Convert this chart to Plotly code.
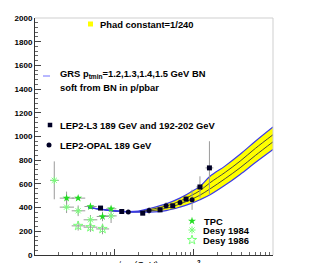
import plotly.graph_objects as go

# ---------------- data ----------------
# GRS curves (pt_min = 1.2, 1.3, 1.4, 1.5 GeV), sigma_tot in nb vs sqrt(s) GeV
grs_s = [4.7, 7, 10, 15, 20, 28, 45, 67, 95, 120, 161, 250, 385, 600, 1000]
grs_12 = [400, 385, 372, 366, 370, 393, 432, 480, 537, 579, 664, 752, 850, 960, 1080]
grs_13 = [400, 385, 372, 365, 367, 383, 413, 455, 505, 543, 610, 698, 792, 900, 1015]
grs_14 = [400, 385, 372, 365, 364, 372, 394, 430, 472, 505, 558, 645, 736, 840, 955]
grs_15 = [400, 385, 372, 364, 362, 362, 375, 404, 438, 466, 508, 590, 680, 780, 890]

# LEP2 L3
l3_s = [6.7, 12.4, 22.8, 37.7, 54.5, 80.2, 120, 158]
l3_sig = [396, 367, 353, 381, 415, 472, 574, 735]
l3_err = [15, 12, 12, 20, 25, 25, 90, 225]
l3_exp = [0.5, 0.9, 1.6, 2.7, 3.9, 5.7, 13, 19]
l3_exm = [0.4, 0.8, 1.5, 2.5, 3.6, 5.3, 12, 17]

# LEP2 OPAL
op_s = [15.0, 27.4, 44.9, 67.3, 95.5]
op_sig = [362, 375, 415, 443, 466]
op_err = [12, 30, 30, 30, 85]

# TPC
tpc_s = [2.5, 3.5, 5.0, 7.1, 9.1]
tpc_sig = [480, 480, 409, 325, 390]
tpc_err = [55, 15, 15, 40, 20]
tpc_exp = [0.6, 0.8, 1.0, 1.4, 1.5]
tpc_exm = [0.45, 0.6, 0.8, 1.1, 1.2]

# Desy 1984
d84_s = [1.75, 2.5, 3.5, 5.0, 9.1]
d84_sig = [630, 404, 373, 297, 330]
d84_err = [160, 50, 45, 40, 60]
d84_exp = [0.25, 0.6, 0.8, 1.1, 1.6]
d84_exm = [0.2, 0.45, 0.6, 0.9, 1.3]

# Desy 1986
d86_s = [3.5, 5.0, 7.1]
d86_sig = [246, 235, 220]
d86_err = [40, 40, 45]
d86_exp = [0.8, 1.1, 1.5]
d86_exm = [0.6, 0.9, 1.2]

x_major = [1, 10, 100, 1000]
x_major_text = ["", "10", "10<sup>2</sup>", ""]
x_minor = [2, 3, 4, 5, 6, 7, 8, 9, 20, 30, 40, 50, 60, 70, 80, 90,
           200, 300, 400, 500, 600, 700, 800, 900]

# ---------------- layout helpers ----------------
W, H = 311, 263
OFF = 8  # page offset of the figure inside the browser window
# plot area in window pixels: x 35..273, y 18..255
SX0, SX1, SY0, SY1 = 35, 273, 18, 255
L, T = SX0 - OFF, SY0 - OFF
R, B = W - (SX1 - OFF), H - (SY1 - OFF)

def px(x):
    return (x - SX0) / (SX1 - SX0)

def py(y):
    return (SY1 - y) / (SY1 - SY0)

FONT = "Liberation Sans, Arial, Helvetica, sans-serif"
ERRC = "#9a9a9a"
GREEN = "#22dd22"
LGREEN = "#77ff77"
DARK = "#000025"

fig = go.Figure()

# band fill
fig.add_trace(go.Scatter(x=grs_s, y=grs_15, mode="lines", line=dict(width=0, shape="spline"),
                         showlegend=False, hoverinfo="skip"))
fig.add_trace(go.Scatter(x=grs_s, y=grs_12, mode="lines", line=dict(width=0, shape="spline"),
                         fill="tonexty", fillcolor="#ffff00", showlegend=False, hoverinfo="skip"))
# interior curves
for ys in (grs_13, grs_14):
    fig.add_trace(go.Scatter(x=grs_s, y=ys, mode="lines",
                             line=dict(color="#353545", width=0.9, shape="spline"),
                             showlegend=False))
# edges (blue)
for ys in (grs_12, grs_15):
    fig.add_trace(go.Scatter(x=grs_s, y=ys, mode="lines",
                             line=dict(color="#3a3ae8", width=1.2, shape="spline"),
                             showlegend=False))

# data points
def pts(xs, ys, ey, sym, size, color, lcolor=None, exp=None, exm=None, name=""):
    mk = dict(symbol=sym, size=size, color=color)
    if lcolor is not None:
        mk["line"] = dict(color=lcolor, width=1)
    kw = {}
    if exp is not None:
        kw["error_x"] = dict(type="data", array=exp, arrayminus=exm, symmetric=False,
                             color=ERRC, thickness=1, width=0)
    fig.add_trace(go.Scatter(x=xs, y=ys, mode="markers", name=name, marker=mk,
                             error_y=dict(type="data", array=ey, color=ERRC, thickness=1, width=0),
                             showlegend=False, **kw))

pts(d84_s, d84_sig, d84_err, "asterisk-open", 6, LGREEN, LGREEN, d84_exp, d84_exm, "Desy 1984")
pts(d86_s, d86_sig, d86_err, "star-open", 7, LGREEN, LGREEN, d86_exp, d86_exm, "Desy 1986")
pts(tpc_s, tpc_sig, tpc_err, "star", 6, GREEN, None, tpc_exp, tpc_exm, "TPC")
pts(op_s, op_sig, op_err, "circle", 5, DARK, None, None, None, "LEP2-OPAL 189 GeV")
pts(l3_s, l3_sig, l3_err, "square", 5, DARK, None, l3_exp, l3_exm, "LEP2-L3")

# legend keys on an overlay pixel axis (window pixels)
keys = [
    (50, 125, "square", 4.5, DARK, None),
    (49, 145, "circle", 5, DARK, None),
    (192, 221, "star", 6, GREEN, None),
    (192, 230, "asterisk-open", 6, LGREEN, LGREEN),
    (192, 240, "star-open", 7, LGREEN, LGREEN),
]
for kx, ky, sym, sz, col, lc in keys:
    mk = dict(symbol=sym, size=sz, color=col)
    if lc:
        mk["line"] = dict(color=lc, width=1)
    fig.add_trace(go.Scatter(x=[kx], y=[ky], xaxis="x2", yaxis="y2", mode="markers",
                             marker=mk, showlegend=False, hoverinfo="skip", cliponaxis=False))

shapes = [
    dict(type="rect", xref="paper", yref="paper", x0=px(88), x1=px(93), y0=py(26.5), y1=py(21.5),
         fillcolor="#ffff00", line=dict(width=0)),
    dict(type="line", xref="paper", yref="paper", x0=px(43), x1=px(50), y0=py(76), y1=py(76),
         line=dict(color="#7070ff", width=1)),
    dict(type="line", xref="paper", yref="paper", x0=0, x1=1, y0=1, y1=1,
         line=dict(color="#cfcfcf", width=1)),
    dict(type="line", xref="paper", yref="paper", x0=1, x1=1, y0=0, y1=1,
         line=dict(color="#cfcfcf", width=1)),
]

tf = dict(family=FONT, size=9.4, color="black", weight="bold")
texts = [
    (99, 24, "Phad constant=1/240"),
    (59, 74, "GRS p<sub>tmin</sub>=1.2,1.3,1.4,1.5 GeV BN"),
    (59, 88, "soft from BN in p/pbar"),
    (59, 125, "LEP2-L3 189 GeV and 192-202 GeV"),
    (59, 145, "LEP2-OPAL 189 GeV"),
    (203, 221, "TPC"),
    (202, 230.5, "Desy 1984"),
    (202, 240.5, "Desy 1986"),
]
annotations = [dict(x=px(x), y=py(y), xref="paper", yref="paper", text=t, showarrow=False,
                    xanchor="left", yanchor="middle", font=tf, borderpad=0) for x, y, t in texts]
annotations.append(dict(x=px(3), y=py(170), xref="paper", yref="paper",
                        text="σ<sub>total</sub> (nb)", textangle=-90, showarrow=False,
                        xanchor="center", yanchor="middle",
                        font=dict(family=FONT, size=7, color="black")))
annotations.append(dict(x=px(137), y=py(258), xref="paper", yref="paper",
                        text="√s<sub>γγ</sub> (GeV)", showarrow=False,
                        xanchor="center", yanchor="top",
                        font=dict(family=FONT, size=9, color="black")))

fig.update_layout(
    width=W, height=H,
    margin=dict(l=L, r=R, t=T, b=B, pad=0, autoexpand=False),
    paper_bgcolor="white", plot_bgcolor="white",
    showlegend=False,
    shapes=shapes, annotations=annotations,
    xaxis=dict(type="log", range=[0, 3], showgrid=False, zeroline=False, automargin=False,
               showline=True, linecolor="#333", linewidth=1,
               tickmode="array", tickvals=x_major, ticktext=x_major_text,
               ticks="inside", ticklen=6, tickcolor="#444", ticklabelstandoff=2,
               tickfont=dict(family=FONT, size=9, color="black", weight="bold"),
               minor=dict(tickmode="array", tickvals=x_minor, ticks="inside", ticklen=3,
                          tickcolor="#666", showgrid=False)),
    yaxis=dict(range=[0, 2000], showgrid=False, zeroline=False, automargin=False,
               showline=True, linecolor="#333", linewidth=1,
               tickmode="linear", tick0=0, dtick=200,
               ticks="inside", ticklen=6, tickcolor="#444",
               tickfont=dict(family=FONT, size=8, color="black", weight="bold"),
               minor=dict(dtick=40, ticks="inside", ticklen=3, tickcolor="#666", showgrid=False)),
    xaxis2=dict(overlaying="x", range=[SX0, SX1], visible=False, fixedrange=True),
    yaxis2=dict(overlaying="y", range=[SY1, SY0], visible=False, fixedrange=True),
)

fig.write_html("out.html")
